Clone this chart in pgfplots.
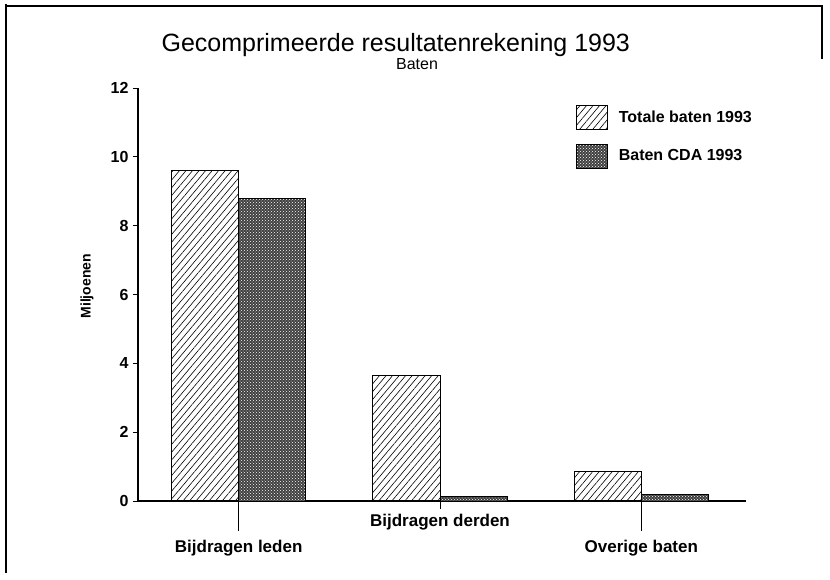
\documentclass[border=0pt]{standalone}
\usepackage{fontspec}
\setmainfont{Liberation Sans}
\usepackage{pgfplots}
\pgfplotsset{compat=1.18}
\usetikzlibrary{patterns,patterns.meta}

\begin{document}
\begin{tikzpicture}
% page frame, 1pt = 1 px of the reference
\path[use as bounding box] (0pt,0pt) rectangle (830pt,579pt);
\draw[line width=1.1pt] (6pt,575pt) -- (6pt,6pt);
\draw[line width=1.1pt] (6pt,573pt) -- (822pt,573pt) -- (822pt,520pt);

\begin{axis}[at={(138pt,78pt)},anchor=south west,
scale only axis,width=608pt,height=413pt,
xmin=-0.5,xmax=2.52,ymin=0,ymax=12,
axis x line*=bottom,axis y line*=left,
axis line style={-,line width=1.1pt},
xtick=\empty,ytick distance=2,
tick align=outside,major tick length=5pt,
tick style={line width=0.9pt,black},
yticklabel style={font=\fontsize{16}{18}\selectfont\bfseries,xshift=-1pt},
/pgf/number format/assume math mode=true,
ylabel={\bfseries Miljoenen},
ylabel style={font=\fontsize{14}{16}\selectfont,at={(axis description cs:-0.084,0.52)},anchor=center},
ybar,bar width=0.333,
legend style={draw=none,fill=none,at={(axis description cs:0.720,0.960)},anchor=north west,
  font=\fontsize{16}{18}\selectfont\bfseries,row sep=14pt,inner sep=0pt,
  nodes={inner sep=2pt,anchor=west}},
legend cell align=left,
legend image code/.code={\draw[#1,line width=0.8pt] (0pt,-12pt) rectangle (31pt,12pt);
  \path (40pt,0pt);},
clip=false]
\addplot[draw=black,line width=0.9pt,bar shift=-0.1665,
  pattern={Lines[angle=50,distance=5pt,line width=0.6pt]}] coordinates {
(0,9.6) (1,3.65) (2,0.85)};
\addlegendentry{Totale baten 1993}
\addplot[draw=black,line width=0.9pt,bar shift=0.1665,fill=black!75,
  postaction={pattern=crosshatch dots,pattern color=white}] coordinates {
(0,8.8) (1,0.13) (2,0.2)};
\addlegendentry{Baten CDA 1993}
% category ticks and staggered labels
\draw[line width=0.9pt] (axis cs:0,0) -- ++(0pt,-30pt);
\draw[line width=0.9pt] (axis cs:1,0) -- ++(0pt,-8pt);
\draw[line width=0.9pt] (axis cs:2,0) -- ++(0pt,-30pt);
\node[font=\fontsize{17}{19}\selectfont\bfseries] at (axis cs:0,0) [yshift=-47pt] {Bijdragen leden};
\node[font=\fontsize{17}{19}\selectfont\bfseries] at (axis cs:1,0) [yshift=-21pt] {Bijdragen derden};
\node[font=\fontsize{17}{19}\selectfont\bfseries] at (axis cs:2,0) [yshift=-47pt] {Overige baten};
\node[font=\fontsize{25}{29}\selectfont] at (axis description cs:0.424,1.104) {Gecomprimeerde resultatenrekening 1993};
\node[font=\fontsize{16}{19}\selectfont] at (axis description cs:0.459,1.058) {Baten};
\end{axis}
\end{tikzpicture}
\end{document}
